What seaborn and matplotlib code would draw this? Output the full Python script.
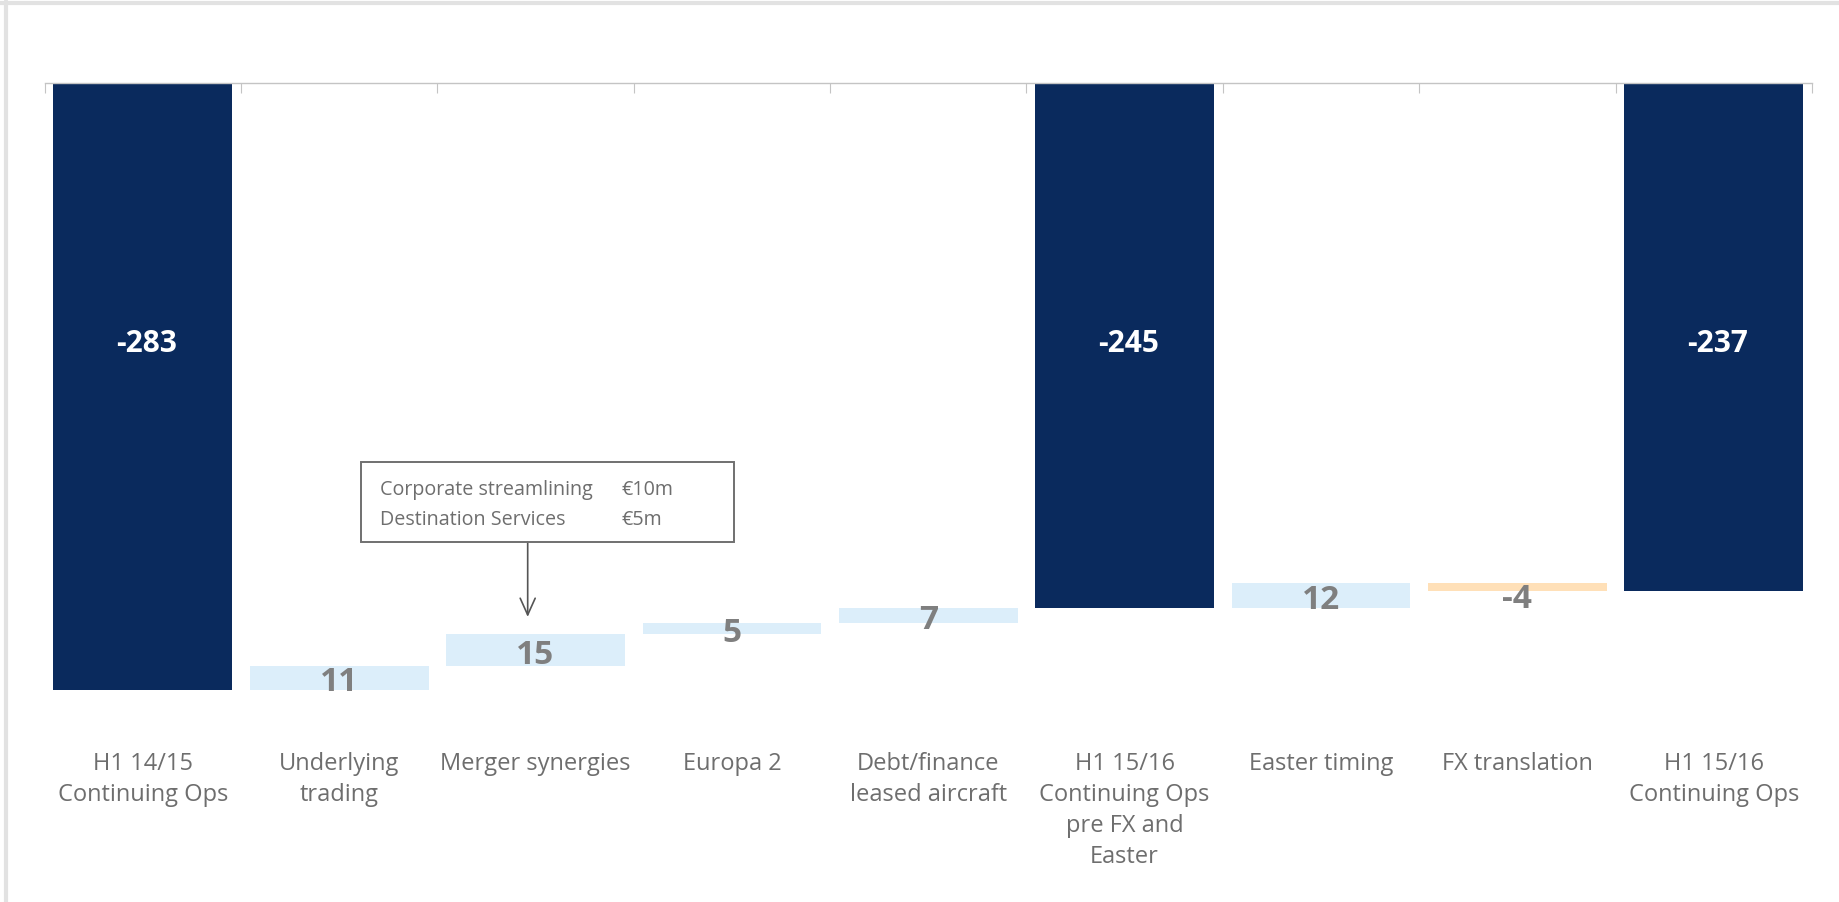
import numpy as np
import pandas as pd
import matplotlib
matplotlib.use("Agg")
import matplotlib.pyplot as plt
from matplotlib.lines import Line2D
import seaborn as sns

categories = ["H1 14/15\nContinuing Ops", "Underlying\ntrading", "Merger synergies",
              "Europa 2", "Debt/finance\nleased aircraft",
              "H1 15/16\nContinuing Ops\npre FX and\nEaster",
              "Easter timing", "FX translation", "H1 15/16\nContinuing Ops"]
values = [-283, 11, 15, 5, 7, -245, 12, -4, -237]
is_total = [True, False, False, False, False, True, False, False, True]
total_labels = ["-283", "", "", "", "", "-245", "", "", "-237"]
delta_labels = ["", "11", "15", "5", "7", "", "12", "-4", ""]
note_items = ["Corporate streamlining", "Destination Services"]
note_amounts = ["\u20ac10m", "\u20ac5m"]

NAVY = "#0A2A5D"
LIGHT = "#DCEEFA"
ORANGE = "#FFE0B8"
GREY_TXT = "#6E6E6E"

# waterfall geometry
bottoms, heights, colors = [], [], []
running = 0
for v, t in zip(values, is_total):
    if t:
        running = v
        bottoms.append(0)
        heights.append(v)
        colors.append(NAVY)
    else:
        bottoms.append(running)
        heights.append(v)
        colors.append(LIGHT if v >= 0 else ORANGE)
        running = running + v

sns.set_theme(style="white")
plt.rcParams["font.family"] = ["Open Sans", "DejaVu Sans"]

fig = plt.figure(figsize=(18.39, 9.03), dpi=100)
ax = fig.add_axes([44.6 / 1839, 1 - 727.2 / 903, (1812 - 44.6) / 1839, (727.2 - 84.4) / 903])

df = pd.DataFrame({"cat": categories, "val": values})
sns.barplot(data=df, x="cat", y="val", hue="cat", palette=colors, dodge=False,
            width=0.91, legend=False, ax=ax, saturation=1, linewidth=0)

for p, b, h in zip(ax.patches, bottoms, heights):
    p.set_y(b)
    p.set_height(h)

ax.set_xlim(-0.5, len(categories) - 0.5)
ax.set_ylim(-300, 0)
ax.set_xlabel("")
ax.set_ylabel("")
ax.set_yticks([])

for s in ["left", "right", "bottom"]:
    ax.spines[s].set_visible(False)
ax.spines["top"].set_color("#C4C4C4")
ax.spines["top"].set_linewidth(1.0)
ax.spines["top"].set_linestyle((0, (2, 1)))
ax.spines["top"].set_zorder(5)

ax.set_xticks(range(len(categories)))
ax.set_xticklabels(categories, fontsize=17, color=GREY_TXT, linespacing=1.38)
ax.tick_params(axis="x", which="major", length=0, pad=18)
ax.set_xticks(np.arange(-0.5, len(categories), 1.0), minor=True)
ax.tick_params(axis="x", which="minor", top=True, bottom=False, direction="in",
               length=7, width=0.8, color="#C4C4C4")

# labels
for i, (b, h, t) in enumerate(zip(bottoms, heights, is_total)):
    if t:
        ax.text(i + 0.02, -121, total_labels[i], ha="center", va="center", color="white",
                fontsize=21.5, fontweight="bold")
    else:
        lo, hi = min(b, b + h), max(b, b + h)
        y = (lo + hi) / 2 if abs(h) >= 5 else lo - 1.5
        ax.text(i, y, delta_labels[i], ha="center", va="center_baseline", color="#7F7F7F",
                fontsize=24, fontweight="bold")

# annotation box
box_l, box_r, box_t, box_b = 1.11, 3.01, -176.7, -214.0
rect = matplotlib.patches.Rectangle((box_l, box_b), box_r - box_l, box_t - box_b,
                                    fill=False, edgecolor="#707070", linewidth=1.4, zorder=6)
ax.add_patch(rect)
ax.text(box_l + 0.1, -189.5, note_items[0], fontsize=14.2, color=GREY_TXT, va="center", ha="left")
ax.text(box_l + 0.1, -203.3, note_items[1], fontsize=14.2, color=GREY_TXT, va="center", ha="left")
ax.text(box_l + 1.33, -189.5, note_amounts[0], fontsize=14.2, color=GREY_TXT, va="center", ha="left")
ax.text(box_l + 1.33, -203.3, note_amounts[1], fontsize=14.2, color=GREY_TXT, va="center", ha="left")
ax.annotate("", xy=(1.96, -249), xytext=(1.96, box_b),
            arrowprops=dict(arrowstyle="->,head_length=1.0,head_width=0.45",
                            color="#555555", lw=1.2, shrinkA=0, shrinkB=0))

# outer frame (top & left)
fig.add_artist(Line2D([0, 1], [1 - 3.5 / 903, 1 - 3.5 / 903], transform=fig.transFigure,
                      color="#E2E2E2", lw=3))
fig.add_artist(Line2D([6 / 1839, 6 / 1839], [0, 1 - 2 / 903], transform=fig.transFigure,
                      color="#E2E2E2", lw=3))

fig.savefig("out.png", dpi=100, facecolor="white")
